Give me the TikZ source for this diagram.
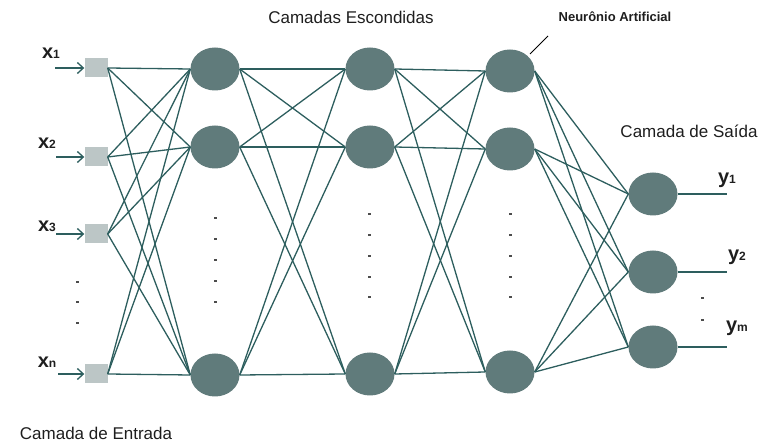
\documentclass[tikz,border=0pt]{standalone}
\usepackage{fontspec}
\setmainfont{Liberation Sans}
\usetikzlibrary{arrows,arrows.meta,shapes.geometric,calc}
\definecolor{nn_node}{RGB}{96, 123, 123}
\definecolor{nn_edge}{RGB}{45, 94, 94}
\definecolor{nn_input}{RGB}{188, 198, 198}
\definecolor{nn_text}{RGB}{30, 30, 30}
\tikzstyle{neu}=[ellipse,fill=nn_node,draw=none,inner sep=0pt,
  minimum width=49pt,minimum height=43pt]
\tikzstyle{inp}=[rectangle,fill=nn_input,draw=none,inner sep=0pt,
  minimum width=23pt,minimum height=19pt]
\tikzstyle{edge}=[draw=nn_edge,line width=1.3pt]
\tikzstyle{none}=[inner sep=0pt,text=nn_text]
\tikzstyle{ttl}=[inner sep=0pt,text=nn_text,font=\fontsize{17}{20}\selectfont]
\tikzstyle{dot}=[fill=black!70,minimum width=3pt,minimum height=1.5pt,inner sep=0pt]
\newcommand{\xlab}[1]{\textbf{\fontsize{20}{22}\selectfont x}{\fontsize{12}{14}\selectfont\textbf{#1}}}
\newcommand{\ylab}[1]{\textbf{\fontsize{20}{22}\selectfont y}{\fontsize{12}{14}\selectfont\textbf{#1}}}

\begin{document}
\begin{tikzpicture}[x=1pt,y=-1pt]
        \useasboundingbox (0,0) rectangle (764,443);
        % input layer
        \node [style=inp] (i1) at (96,68) {};
        \node [style=inp] (i2) at (96,157) {};
        \node [style=inp] (i3) at (96,234) {};
        \node [style=inp] (i4) at (96,374) {};
        % hidden layers
        \node [style=neu] (a1) at (215,69) {};
        \node [style=neu] (a2) at (215,147) {};
        \node [style=neu] (a3) at (215,375) {};
        \node [style=neu] (b1) at (370,69) {};
        \node [style=neu] (b2) at (370,147) {};
        \node [style=neu] (b3) at (370,374) {};
        \node [style=neu] (c1) at (510,71) {};
        \node [style=neu] (c2) at (510,149) {};
        \node [style=neu] (c3) at (510,372) {};
        % output layer
        \node [style=neu] (o1) at (653,194) {};
        \node [style=neu] (o2) at (653,272) {};
        \node [style=neu] (o3) at (653,347) {};
        % inputs and outputs
        \coordinate (s1) at (55,68);
        \coordinate (s2) at (56,157);
        \coordinate (s3) at (56,234);
        \coordinate (s4) at (58,374);
        \coordinate (t1) at (727,194);
        \coordinate (t2) at (727,272);
        \coordinate (t3) at (727,347);
        \foreach \k in {1,2,3,4}
            \draw [style=edge,-{Straight Barb[length=6pt,width=11pt]}] (s\k) to (i\k.west);
        \foreach \k in {1,2,3}
            \draw [style=edge] (o\k.east) to (t\k);
        % connections
        \foreach \p in {1,2,3,4}
            \foreach \q in {1,2,3}
                \draw [style=edge] (i\p.east) to (a\q.west);
        \foreach \p in {1,2,3}
            \foreach \q in {1,2,3} {
                \draw [style=edge] (a\p.east) to (b\q.west);
                \draw [style=edge] (b\p.east) to (c\q.west);
                \draw [style=edge] (c\p.east) to (o\q.west);
            }
        % labels
        \node [style=none] (lx1) at (51,53) {\xlab{1}};
        \node [style=none] (lx2) at (47,143) {\xlab{2}};
        \node [style=none] (lx3) at (47,226) {\xlab{3}};
        \node [style=none] (lx4) at (47,362) {\xlab{n}};
        \node [style=none] (ly1) at (727,180) {\ylab{1}};
        \node [style=none] (ly2) at (737,257) {\ylab{2}};
        \node [style=none] (ly3) at (737,328) {\ylab{m}};
        \node [style=ttl] (tin) at (96,433) {Camada de Entrada};
        \node [style=ttl] (thid) at (351,17) {Camadas Escondidas};
        \node [style=ttl] (tout) at (689,131) {Camada de Saída};
        \node [style=none,font=\fontsize{13}{15}\selectfont\bfseries] (tneu) at (615,17) {Neurônio Artificial};
        \coordinate (p1) at (530,54);
        \coordinate (p2) at (548,36);
        \draw [line width=1pt] (p1) to (p2);
        % dots
        \foreach \y in {282,302,323}
            \node [style=dot] at (77,\y) {};
        \foreach \y in {218,239,260,281,302}
            \node [style=dot] at (215,\y) {};
        \foreach \y in {214,235,256,277,297} {
            \node [style=dot] at (369,\y) {};
            \node [style=dot] at (510,\y) {};
        }
        \foreach \y in {298,320}
            \node [style=dot] at (702,\y) {};
    \end{tikzpicture}
\end{document}
